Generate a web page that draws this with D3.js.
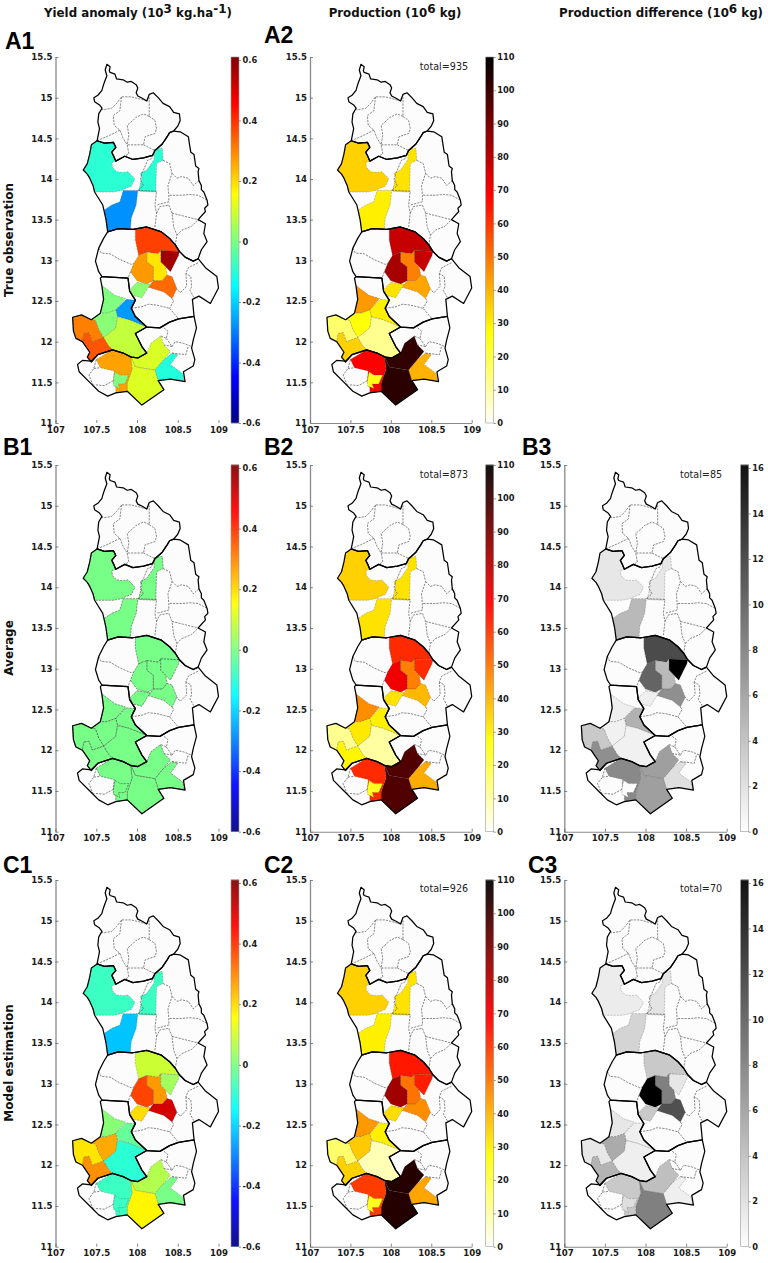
<!DOCTYPE html>
<html><head><meta charset="utf-8">
<script src="https://cdn.jsdelivr.net/npm/d3@7"></script>
<style>html,body{margin:0;padding:0;background:#fff}svg{display:block}</style>
</head><body><svg id="c" width="768" height="1263"></svg>
<script>
// ---------- geography (longitude, latitude) ----------
const provinceRings = [
 [[107.63,15.41],[107.67,15.38],[107.66,15.33],[107.67,15.31],[107.73,15.29],[107.75,15.23],[107.83,15.22],[107.88,15.19],[107.93,15.20],[107.99,15.16],[108.01,15.12],[107.99,15.06],[108.01,15.02],[108.07,14.99],[108.12,14.96],[108.15,15.04],[108.20,15.06],[108.26,15.00],[108.32,14.93],[108.40,14.89],[108.45,14.82],[108.52,14.80],[108.53,14.72],[108.50,14.65],[108.45,14.59],[108.40,14.57],[108.37,14.52],[108.31,14.43],[108.22,14.35],[108.19,14.29],[108.08,14.26],[107.95,14.24],[107.85,14.28],[107.74,14.22],[107.71,14.29],[107.69,14.33],[107.74,14.39],[107.71,14.45],[107.60,14.44],[107.51,14.47],[107.54,14.62],[107.52,14.70],[107.53,14.80],[107.57,14.87],[107.54,14.91],[107.48,14.95],[107.47,15.00],[107.52,15.03],[107.57,15.09],[107.58,15.13],[107.60,15.19],[107.63,15.27],[107.61,15.34]],
 [[107.51,14.47],[107.60,14.44],[107.71,14.45],[107.74,14.39],[107.69,14.33],[107.71,14.29],[107.74,14.22],[107.85,14.28],[107.95,14.24],[108.08,14.26],[108.19,14.29],[108.22,14.35],[108.31,14.43],[108.37,14.52],[108.40,14.57],[108.45,14.59],[108.53,14.58],[108.63,14.52],[108.65,14.39],[108.66,14.33],[108.70,14.30],[108.71,14.23],[108.72,14.16],[108.76,14.13],[108.75,14.09],[108.76,13.98],[108.79,13.92],[108.79,13.87],[108.82,13.84],[108.86,13.74],[108.87,13.68],[108.83,13.64],[108.84,13.60],[108.75,13.50],[108.84,13.45],[108.82,13.33],[108.86,13.23],[108.79,13.13],[108.75,13.02],[108.69,12.99],[108.59,13.04],[108.52,13.11],[108.47,13.19],[108.40,13.27],[108.30,13.35],[108.12,13.41],[107.95,13.38],[107.77,13.39],[107.64,13.35],[107.62,13.50],[107.58,13.68],[107.48,13.84],[107.46,13.92],[107.42,14.01],[107.39,14.06],[107.34,14.11],[107.39,14.19],[107.42,14.31],[107.44,14.42]],
 [[107.64,13.35],[107.77,13.39],[107.95,13.38],[108.12,13.41],[108.30,13.35],[108.40,13.27],[108.47,13.19],[108.52,13.11],[108.59,13.04],[108.69,12.99],[108.75,13.02],[108.84,12.91],[108.98,12.80],[109.00,12.66],[108.90,12.47],[108.76,12.56],[108.68,12.52],[108.70,12.31],[108.51,12.28],[108.40,12.24],[108.28,12.17],[108.12,12.18],[107.98,12.31],[107.93,12.41],[107.98,12.51],[107.91,12.62],[107.89,12.78],[107.57,12.80],[107.53,12.86],[107.49,12.99],[107.53,13.15],[107.59,13.27]],
 [[107.57,12.80],[107.89,12.78],[107.91,12.62],[107.98,12.51],[107.93,12.41],[107.98,12.31],[108.12,12.18],[107.98,12.10],[108.06,11.94],[108.12,11.86],[108.01,11.80],[107.93,11.81],[107.83,11.86],[107.70,11.90],[107.52,11.84],[107.44,11.75],[107.39,11.81],[107.42,11.87],[107.33,12.00],[107.25,12.04],[107.22,12.13],[107.21,12.30],[107.32,12.33],[107.44,12.27],[107.55,12.35],[107.59,12.52],[107.57,12.68],[107.55,12.78]],
 [[107.98,12.10],[108.12,12.18],[108.28,12.17],[108.40,12.24],[108.51,12.28],[108.70,12.31],[108.73,12.17],[108.69,12.02],[108.67,11.92],[108.71,11.78],[108.69,11.70],[108.57,11.63],[108.59,11.51],[108.41,11.54],[108.26,11.52],[108.33,11.41],[108.06,11.22],[107.88,11.39],[107.74,11.37],[107.64,11.33],[107.53,11.39],[107.43,11.49],[107.29,11.63],[107.27,11.72],[107.33,11.77],[107.44,11.76],[107.52,11.84],[107.70,11.90],[107.83,11.86],[107.93,11.81],[108.01,11.80],[108.12,11.86],[108.06,11.94]]
];

// inner borders between the districts that stay white in every panel
const districtBorders = [
 [[107.57,14.87],[107.58,14.85],[107.69,14.87],[107.75,14.93],[107.81,15.01],[107.93,15.01],[108.01,14.99],[108.12,14.96]],
 [[108.12,14.96],[108.15,15.00],[108.15,14.77]],
 [[107.81,15.01],[107.79,14.84],[107.71,14.78],[107.72,14.66],[107.79,14.60],[107.83,14.50],[107.88,14.42],[107.90,14.31],[107.85,14.28]],
 [[107.51,14.47],[107.67,14.54],[107.79,14.60]],
 [[108.15,14.77],[108.08,14.80],[107.99,14.76],[107.95,14.72],[107.88,14.66],[107.90,14.54],[107.88,14.42]],
 [[108.15,14.77],[108.22,14.72],[108.24,14.62],[108.22,14.56],[108.10,14.52],[108.08,14.42],[107.97,14.42],[107.88,14.42]],
 [[108.08,14.42],[108.22,14.35]],
 [[108.01,13.86],[108.24,13.85],[108.22,13.68],[108.24,13.58],[108.22,13.41]],
 [[108.19,14.29],[108.18,14.25],[108.13,14.23],[108.08,14.11],[108.06,14.07],[108.04,13.99],[108.08,13.92],[108.01,13.86]],
 [[108.32,14.23],[108.40,14.19],[108.43,14.07],[108.38,13.92],[108.39,13.80],[108.39,13.72],[108.24,13.68]],
 [[108.43,14.07],[108.49,14.01],[108.55,14.03],[108.63,14.01],[108.69,13.92],[108.76,13.98]],
 [[108.40,13.80],[108.55,13.80],[108.65,13.81],[108.75,13.80],[108.86,13.74]],
 [[108.24,13.58],[108.28,13.66],[108.39,13.68],[108.43,13.58],[108.45,13.41],[108.49,13.31],[108.47,13.19]],
 [[108.49,13.31],[108.55,13.37],[108.67,13.42],[108.75,13.50]],
 [[108.43,13.58],[108.59,13.54],[108.75,13.50]],
 [[107.53,13.15],[107.56,13.09],[107.67,13.08],[107.79,13.01],[107.93,12.95],[107.96,12.96]],
 [[107.92,12.86],[107.89,12.78]],
 [[107.93,12.41],[108.06,12.43],[108.14,12.46],[108.24,12.45],[108.40,12.41],[108.51,12.28]],
 [[108.43,12.53],[108.45,12.50],[108.40,12.41]],
 [[108.75,12.97],[108.63,12.91],[108.60,12.84],[108.66,12.80],[108.67,12.68],[108.65,12.63],[108.70,12.54]],
 [[108.60,12.84],[108.61,12.68],[108.53,12.60],[108.49,12.65]],
 [[107.50,11.78],[107.47,11.67],[107.41,11.59],[107.45,11.49],[107.48,11.44]],
 [[107.47,11.67],[107.55,11.68]],
 [[107.71,11.52],[107.60,11.46],[107.48,11.47]],
 [[108.33,12.17],[108.38,12.13],[108.36,12.04],[108.29,12.07]],
 [[108.36,12.04],[108.43,11.94],[108.47,12.00],[108.57,11.98],[108.67,11.94]],
 [[108.43,11.94],[108.33,11.96]],
 [[108.43,11.86],[108.60,11.84],[108.63,11.95]]
];

// districts that carry a value
const districtNames = ["K1","K4","K5","DA","DB","DC","DD","DE","DF","E2","E3","E4","E5","E6","E7","F1","F2","F3","F4","F5"];
const districtRings = [
 [[107.44,14.42],[107.51,14.47],[107.60,14.44],[107.71,14.45],[107.74,14.39],[107.69,14.33],[107.71,14.29],[107.74,14.22],[107.69,14.20],[107.70,14.14],[107.75,14.09],[107.83,14.08],[107.89,14.09],[107.975,14.00],[107.93,13.91],[107.85,13.88],[107.81,13.86],[107.71,13.84],[107.58,13.84],[107.48,13.84],[107.46,13.92],[107.42,14.01],[107.39,14.06],[107.34,14.11],[107.39,14.19],[107.42,14.31]],
 [[108.21,14.36],[108.31,14.38],[108.32,14.23],[108.24,14.19],[108.23,13.84],[108.02,13.85],[108.06,14.02],[108.04,14.07],[108.12,14.11],[108.21,14.24]],
 [[107.83,13.86],[108.01,13.86],[107.99,13.68],[107.93,13.52],[107.92,13.39],[107.77,13.39],[107.64,13.35],[107.60,13.62],[107.69,13.68],[107.79,13.72]],
 [[107.98,13.38],[108.12,13.41],[108.20,13.39],[108.30,13.35],[108.40,13.27],[108.47,13.19],[108.52,13.11],[108.29,13.12],[108.26,13.08],[108.12,13.10],[108.02,13.06],[107.98,13.25]],
 [[108.29,13.12],[108.52,13.11],[108.51,13.06],[108.47,12.98],[108.41,12.86],[108.35,12.92],[108.29,12.98]],
 [[108.12,13.10],[108.26,13.08],[108.29,13.12],[108.29,12.98],[108.35,12.92],[108.37,12.82],[108.31,12.75],[108.20,12.75],[108.20,12.92],[108.12,12.98]],
 [[108.02,13.06],[108.12,13.10],[108.12,12.98],[108.20,12.92],[108.20,12.75],[108.12,12.71],[108.00,12.75],[107.92,12.86],[107.96,12.96]],
 [[108.20,12.75],[108.31,12.75],[108.37,12.82],[108.43,12.80],[108.49,12.65],[108.43,12.53],[108.33,12.61],[108.14,12.67]],
 [[108.00,12.73],[108.12,12.71],[108.16,12.71],[108.14,12.67],[108.06,12.54],[107.94,12.57],[107.92,12.65]],
 [[107.57,12.69],[107.73,12.57],[107.86,12.53],[107.74,12.39],[107.63,12.35],[107.55,12.35],[107.59,12.52],[107.58,12.62]],
 [[107.87,12.52],[107.98,12.51],[107.93,12.41],[107.98,12.31],[108.12,12.18],[107.90,12.27],[107.76,12.31],[107.74,12.39]],
 [[107.44,12.27],[107.55,12.35],[107.63,12.35],[107.74,12.39],[107.76,12.30],[107.74,12.17],[107.59,12.05],[107.53,12.15],[107.49,12.26]],
 [[107.76,12.30],[107.90,12.27],[108.12,12.18],[107.98,12.10],[108.06,11.94],[108.12,11.86],[108.01,11.80],[107.93,11.81],[107.83,11.86],[107.70,11.90],[107.65,11.95],[107.59,12.05],[107.74,12.17]],
 [[107.21,12.30],[107.32,12.33],[107.44,12.27],[107.49,12.26],[107.53,12.15],[107.59,12.05],[107.45,12.00],[107.41,12.11],[107.35,12.10],[107.33,12.00],[107.25,12.04],[107.22,12.13]],
 [[107.35,12.10],[107.41,12.11],[107.45,12.00],[107.59,12.05],[107.65,11.95],[107.70,11.90],[107.52,11.84],[107.44,11.75],[107.39,11.81],[107.42,11.87],[107.33,12.00]],
 [[108.29,12.07],[108.33,11.96],[108.41,11.88],[108.33,11.78],[108.22,11.65],[107.98,11.69],[107.92,11.82],[108.01,11.80],[108.12,11.86],[108.17,11.98]],
 [[108.43,11.86],[108.50,11.84],[108.41,11.72],[108.56,11.61],[108.58,11.52],[108.41,11.54],[108.26,11.52],[108.22,11.65],[108.33,11.78]],
 [[107.92,11.82],[107.98,11.69],[108.22,11.65],[108.26,11.52],[108.33,11.41],[108.06,11.22],[107.88,11.39],[107.88,11.49],[107.94,11.66]],
 [[107.50,11.78],[107.70,11.90],[107.83,11.86],[107.93,11.81],[107.92,11.82],[107.94,11.66],[107.88,11.49],[107.88,11.39],[107.74,11.37],[107.74,11.43],[107.71,11.52],[107.72,11.64],[107.55,11.68]],
 [[107.73,11.63],[107.79,11.59],[107.90,11.59],[107.85,11.48],[107.77,11.48],[107.79,11.42],[107.71,11.46],[107.71,11.52]]
];

// ---------- values per district ----------
const yieldObserved = [-0.10,-0.10,-0.28,0.375,0.56,0.18,0.27,0.325,0.015,0,-0.27,0.01,0.08,0.30,0.35,0.105,-0.11,0.11,0.26,0];
const yieldAverage  = [-0.01,-0.01,-0.01,-0.01,-0.01,-0.01,-0.01,-0.01,-0.01,-0.01,-0.01,-0.01,-0.01,-0.01,-0.01,-0.01,-0.01,-0.01,-0.01,-0.01];
const yieldModel    = [-0.08,-0.08,-0.22,0.09,0.04,0.27,0.37,0.50,0.19,0.01,-0.03,0.25,-0.10,0.18,0.28,0.06,-0.01,0.16,-0.08,-0.08];
const prodObserved  = [35,32,30,78,78,48,83,42,32,44,30,27,12,16,35,102,40,103,69,25];
const prodAverage   = [35,32,32,62,62,48,71,39,32,46,30,31,10,12,29,97,41,97,62,24];
const prodModel     = [35,32,30,65,64,50,84,46,33,44,30,36,8,16,35,104,42,104,59,24];
const diffAverage   = [1.5,1.5,4.4,11.3,16,4.3,9.7,7,1,1,4.9,0.9,0.9,3.4,7,6,2,6,7.4,0.2];
const diffModel     = [1.2,1.7,2.7,3.4,1.5,8,16,11,3.4,1.5,1,5.3,1,1.5,4.7,4,1,8,3.4,2];

// ---------- labels ----------
const lonTicks = [107,107.5,108,108.5,109];
const latTicks = [11,11.5,12,12.5,13,13.5,14,14.5,15,15.5];
const yieldTicks = [-0.6,-0.4,-0.2,0,0.2,0.4,0.6];
const prodTicks = [0,10,20,30,40,50,60,70,80,90,100,110];
const diffTicks = [0,2,4,6,8,10,12,14,16];
const rowLabels = ["True observation","Average","Model estimation"];

// ---------- scales ----------
const clamp = v => Math.max(0,Math.min(1,v));
const yieldT = d3.scaleLinear().domain([-0.6,0.6]).range([0,1]);
const jet = v => { const t=yieldT(v);
  return d3.rgb(255*clamp(1.5-Math.abs(4*t-3)),255*clamp(1.5-Math.abs(4*t-2)),255*clamp(1.5-Math.abs(4*t-1))).formatRgb(); };
const hot = d3.scaleLinear().domain([0,27.5,68.75,110]).range(["#ffffff","#ffff00","#ff0000","#000000"]);
const gray = d3.scaleLinear().domain([0,16]).range(["#ffffff","#000000"]);

const panels = [
 {id:"A1",x0:55.5,x1:218.5,y0:423,y1:57,vals:yieldObserved,color:jet,kind:"yield",lab:[5,49]},
 {id:"A2",x0:310,x1:471.7,y0:423,y1:57,vals:prodObserved,color:hot,kind:"prod",total:"total=935",tot:[444,67],lab:[264,43]},
 {id:"B1",x0:55.5,x1:218.5,y0:831.7,y1:465,vals:yieldAverage,color:jet,kind:"yield",lab:[3,455]},
 {id:"B2",x0:310,x1:471.7,y0:831.7,y1:465,vals:prodAverage,color:hot,kind:"prod",total:"total=873",tot:[444,475],lab:[264,455]},
 {id:"B3",x0:564.3,x1:726.7,y0:831.7,y1:465,vals:diffAverage,color:gray,kind:"diff",total:"total=85",tot:[701,475],lab:[522,455]},
 {id:"C1",x0:55.5,x1:218.5,y0:1246.7,y1:880,vals:yieldModel,color:jet,kind:"yield",lab:[3,873]},
 {id:"C2",x0:310,x1:471.7,y0:1246.7,y1:880,vals:prodModel,color:hot,kind:"prod",total:"total=926",tot:[444,889],lab:[264,873]},
 {id:"C3",x0:564.3,x1:726.7,y0:1246.7,y1:880,vals:diffModel,color:gray,kind:"diff",total:"total=70",tot:[701,889],lab:[528,873]}
];
const bars = {
 yield:{dom:[-0.6,0.6],ticks:yieldTicks,color:jet,dx:175.5,w:8,fmt:d=>String(d)},
 prod:{dom:[0,110],ticks:prodTicks,color:hot,dx:175.7,w:8,fmt:d=>String(d)},
 diff:{dom:[0,16],ticks:diffTicks,color:gray,dx:176.4,w:8,fmt:d=>String(d)}
};

const svg = d3.select("#c");
const SANS = "'DejaVu Sans',sans-serif";

panels.forEach(p=>{
  const g = svg.append("g").attr("class","panel");
  const lon = d3.scaleLinear().domain([107,109]).range([p.x0,p.x1]);
  const lat = d3.scaleLinear().domain([11,15.5]).range([p.y0,p.y1]);
  const line = d3.line().x(d=>lon(d[0])).y(d=>lat(d[1]));
  const ring = r => line(r)+"Z";

  g.append("g").selectAll("path").data(provinceRings).join("path")
    .attr("d",ring).attr("fill","#fcfcfc").attr("stroke","none");
  g.append("g").selectAll("path").data(districtRings).join("path")
    .attr("d",ring).attr("fill",(d,i)=>p.color(p.vals[i]))
    .attr("stroke","#333").attr("stroke-width",0.55).attr("stroke-dasharray","2.2 1")
    .attr("stroke-opacity",p.id==="B1"?0.9:0.45);
  g.append("g").selectAll("path").data(districtBorders).join("path")
    .attr("d",line).attr("fill","none").attr("stroke","#555")
    .attr("stroke-width",0.7).attr("stroke-dasharray","2.2 1.1");
  g.append("g").selectAll("path").data(provinceRings).join("path")
    .attr("d",ring).attr("fill","none").attr("stroke","#000")
    .attr("stroke-width",1.25).attr("stroke-linejoin","round");

  // axes
  const ax = g.append("g").attr("font-family",SANS);
  const ya = ax.append("g").attr("transform",`translate(${p.x0},0)`)
    .call(d3.axisLeft(lat).tickValues(latTicks).tickFormat(d=>String(d)).tickSizeInner(-3).tickSizeOuter(0).tickPadding(3));
  const xa = ax.append("g").attr("transform",`translate(0,${p.y0})`)
    .call(d3.axisBottom(lon).tickValues(lonTicks).tickFormat(d=>String(d)).tickSizeInner(-3).tickSizeOuter(0).tickPadding(3.5));
  ya.select(".domain").attr("stroke","#8a8a8a").attr("stroke-width",1.3);
  xa.select(".domain").attr("stroke",p.kind==="yield"?"none":"#8a8a8a").attr("stroke-width",1.1);
  ax.selectAll(".tick line").attr("stroke","#555").attr("stroke-width",0.7);
  ax.selectAll("text").attr("font-size",8.6).attr("font-weight","bold").attr("fill","#1a1a1a").attr("font-family",SANS);
  ya.selectAll(".tick text").attr("dy","0.32em");

  // colour bar
  const b = bars[p.kind];
  const bx = p.x0+b.dx;
  const by = d3.scaleLinear().domain(b.dom).range([p.y0,p.y1]);
  const steps = d3.range(0,Math.round(p.y0-p.y1));
  const bar = g.append("g");
  bar.selectAll("rect").data(steps).join("rect")
    .attr("x",bx).attr("width",b.w).attr("y",i=>p.y0-i-1).attr("height",1.2)
    .attr("fill",i=>b.color(by.invert(p.y0-i-0.5)));
  bar.append("rect").attr("x",bx).attr("y",p.y1).attr("width",b.w).attr("height",p.y0-p.y1)
    .attr("fill","none").attr("stroke","#999").attr("stroke-width",0.6);
  const labY = p.kind==="prod" ? by : d3.scaleLinear().domain(b.dom).range([p.y0,p.y1+3]);
  const cax = g.append("g").attr("transform",`translate(${bx+b.w},0)`).attr("font-family",SANS)
    .call(d3.axisRight(labY).tickValues(b.ticks).tickFormat(b.fmt).tickSizeInner(2).tickSizeOuter(0).tickPadding(1.5));
  cax.select(".domain").attr("stroke","none");
  cax.selectAll(".tick line").attr("stroke","#444").attr("stroke-width",0.6);
  cax.selectAll("text").attr("font-size",8.3).attr("font-weight","bold").attr("fill","#1a1a1a").attr("font-family",SANS);

  // total
  if(p.total) g.append("text").attr("x",p.tot[0]).attr("y",p.tot[1]).attr("dy","0.35em")
    .attr("text-anchor","middle").attr("font-family",SANS).attr("font-size",9.6).attr("fill","#222").text(p.total);
  // panel label
  g.append("text").attr("x",p.lab[0]).attr("y",p.lab[1]).attr("font-family","'Liberation Sans',Arial,sans-serif")
    .attr("font-weight","bold").attr("font-size",23).attr("fill","#000").text(p.id);
});

// column titles
const titles = [
 {x:138,parts:[["Yield anomaly (10",0],["3",1],[" kg.ha",0],["-1",1],[")",0]]},
 {x:395,parts:[["Production (10",0],["6",1],[" kg)",0]]},
 {x:661,parts:[["Production difference (10",0],["6",1],[" kg)",0]]}
];
titles.forEach(t=>{
  const tx = svg.append("text").attr("x",t.x).attr("y",17).attr("text-anchor","middle")
    .attr("font-family",SANS).attr("font-weight","bold").attr("font-size",11.8).attr("fill","#111");
  t.parts.forEach(q=>{
    tx.append("tspan").attr("font-size",q[1]?12:11.8).attr("baseline-shift",q[1]?"35%":null).text(q[0]);
  });
});

// row labels
[240,648,1063].forEach((y,i)=>{
  svg.append("text").attr("transform",`translate(12.5,${y}) rotate(-90)`).attr("text-anchor","middle")
    .attr("font-family",SANS).attr("font-weight","bold").attr("font-size",12).attr("fill","#111").text(rowLabels[i]);
});
</script></body></html>
